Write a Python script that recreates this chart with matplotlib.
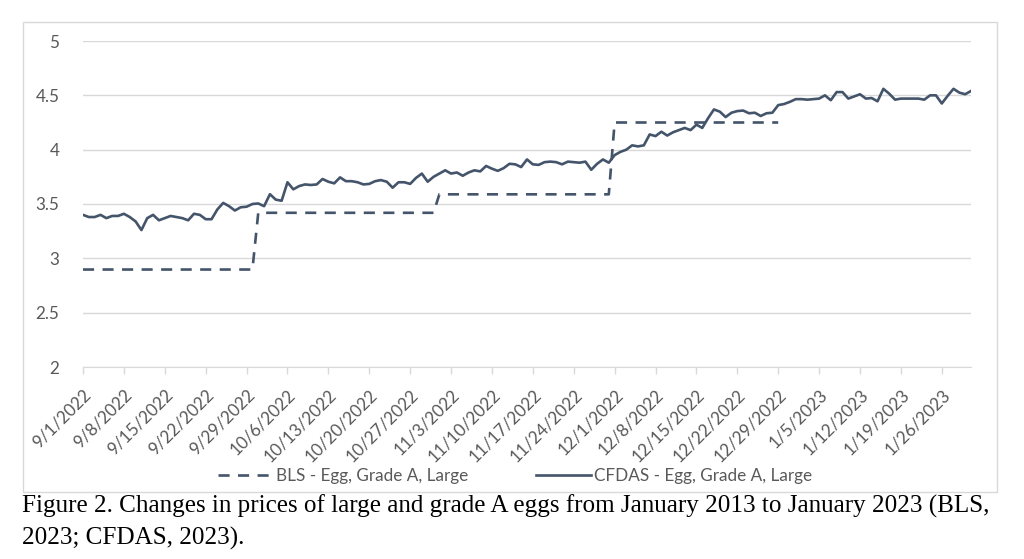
import pandas as pd
import matplotlib.pyplot as plt
from matplotlib.patches import Rectangle

# daily CFDAS price, 9/1/2022 .. 1/31/2023
start_date = "2022-09-01"
cfdas_values = [
    3.40, 3.38, 3.38, 3.40, 3.37, 3.39, 3.39, 3.41, 3.38, 3.34,
    3.26, 3.37, 3.40, 3.35, 3.37, 3.39, 3.38, 3.37, 3.35, 3.41,
    3.40, 3.36, 3.36, 3.45, 3.51, 3.48, 3.44, 3.47, 3.475, 3.50,
    3.505, 3.48, 3.59, 3.54, 3.53, 3.70, 3.635, 3.665, 3.68, 3.675,
    3.68, 3.73, 3.705, 3.69, 3.745, 3.71, 3.71, 3.70, 3.68, 3.685,
    3.71, 3.72, 3.705, 3.65, 3.70, 3.70, 3.685, 3.74, 3.78, 3.705,
    3.75, 3.78, 3.81, 3.78, 3.79, 3.76, 3.79, 3.81, 3.80, 3.85,
    3.825, 3.805, 3.83, 3.87, 3.865, 3.84, 3.91, 3.865, 3.86, 3.885,
    3.89, 3.885, 3.865, 3.89, 3.885, 3.88, 3.89, 3.815, 3.87, 3.91,
    3.88, 3.95, 3.98, 4.00, 4.04, 4.03, 4.04, 4.14, 4.125, 4.165,
    4.13, 4.16, 4.18, 4.20, 4.18, 4.23, 4.20, 4.29, 4.37, 4.35,
    4.30, 4.34, 4.355, 4.36, 4.335, 4.34, 4.31, 4.335, 4.34, 4.41,
    4.42, 4.44, 4.465, 4.465, 4.46, 4.465, 4.47, 4.50, 4.455, 4.53,
    4.53, 4.47, 4.49, 4.51, 4.47, 4.475, 4.445, 4.56, 4.515, 4.46,
    4.47, 4.47, 4.47, 4.47, 4.46, 4.50, 4.50, 4.425, 4.495, 4.56,
    4.525, 4.51, 4.54,
]

# monthly BLS price, repeated for each day of the month
bls_months = ["2022-09", "2022-10", "2022-11", "2022-12"]
bls_values = [2.897, 3.419, 3.589, 4.250]
bls_end = "2022-12-29"

line_color = "#44546A"
grid_color = "#D9D9D9"
text_color = "#595959"

cfdas_dates = pd.date_range(start_date, periods=len(cfdas_values), freq="D")
bls_dates = pd.date_range(start_date, bls_end, freq="D")
bls_lookup = dict(zip(bls_months, bls_values))
bls_daily = [bls_lookup[d.strftime("%Y-%m")] for d in bls_dates]

tick_dates = pd.date_range(start_date, "2023-01-26", freq="7D")
tick_labels = [f"{d.month}/{d.day}/{d.year}" for d in tick_dates]

plt.rcParams["font.family"] = ["Lato", "DejaVu Sans"]

fig = plt.figure(figsize=(10.24, 5.59), dpi=100)
ax = fig.add_axes([83 / 1024, 1 - 367 / 559, (971 - 83) / 1024, (367 - 41) / 559])

ax.plot(bls_dates, bls_daily, color=line_color, lw=1.9, dashes=(4.2, 3.2),
        label="BLS - Egg, Grade A, Large")
ax.plot(cfdas_dates, cfdas_values, color=line_color, lw=1.9,
        label="CFDAS - Egg, Grade A, Large")

ax.set_xlim(cfdas_dates[0], cfdas_dates[-1])
ax.set_ylim(2, 5)
ax.set_yticks([2, 2.5, 3, 3.5, 4, 4.5, 5])
ax.set_yticklabels(["2", "2.5", "3", "3.5", "4", "4.5", "5"])
ax.yaxis.grid(True, color=grid_color, lw=1)
ax.set_axisbelow(True)

ax.set_xticks(tick_dates)
ax.set_xticklabels(tick_labels, rotation=45, ha="right", rotation_mode="anchor")

for s in ["top", "right", "left"]:
    ax.spines[s].set_visible(False)
ax.spines["bottom"].set_color(grid_color)
ax.tick_params(axis="x", colors=grid_color, length=5, width=1, labelcolor=text_color,
               labelsize=12.3, pad=9)
ax.tick_params(axis="y", length=0, labelcolor=text_color, labelsize=12.3, pad=17)

fig.legend(loc="center", bbox_to_anchor=(0.503, 0.148), ncol=2, frameon=False,
           fontsize=12.3, labelcolor=text_color, handlelength=3.2, handletextpad=0.2,
           columnspacing=4.0)

# chart border
fig.patches.append(Rectangle((22.7 / 1024, 1 - 492 / 559), (997 - 22.7) / 1024,
                             (492 - 21.7) / 559, transform=fig.transFigure,
                             fill=False, edgecolor=grid_color, lw=1))

fig.text(22 / 1024, 1 - 513 / 559,
         "Figure 2. Changes in prices of large and grade A eggs from January 2013 "
         "to January 2023 (BLS,",
         family="Liberation Serif", fontsize=18.1, color="black", va="baseline")
fig.text(22 / 1024, 1 - 545 / 559, "2023; CFDAS, 2023).",
         family="Liberation Serif", fontsize=18.1, color="black", va="baseline")

fig.savefig("out.png", dpi=100)
